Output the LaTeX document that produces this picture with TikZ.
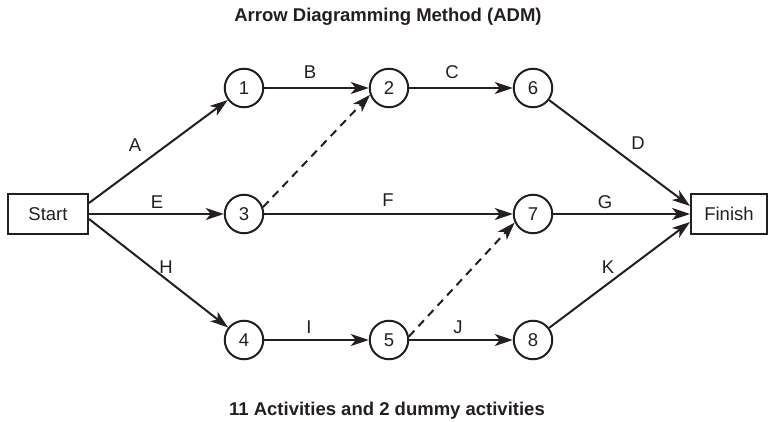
\documentclass[tikz,border=0pt]{standalone}
\usepackage{fontspec}
\setmainfont{Liberation Sans}
\usetikzlibrary{arrows.meta}
\definecolor{ink}{HTML}{231F20}
\begin{document}
\begin{tikzpicture}[x=1pt,y=-1pt,
  every node/.style={text=ink, font=\fontsize{18.5}{22}\selectfont},
  evnode/.style={circle, draw=ink, line width=2pt, minimum size=38.5pt, inner sep=0pt},
  termbox/.style={rectangle, draw=ink, line width=2pt, minimum height=40pt, inner sep=0pt},
  act/.style={draw=ink, line width=2pt, -{Stealth[length=18pt,width=12pt,inset=5pt]}},
  dummy/.style={act, dash pattern=on 8pt off 6pt},
  lbl/.style={inner sep=0pt},
  heading/.style={font=\fontsize{18.5}{22}\selectfont\bfseries}]
\useasboundingbox (0,0) rectangle (768,422);
\node[heading] (title) at (388,17) {Arrow Diagramming Method (ADM)};
\node[heading] (foot) at (387,411) {11 Activities and 2 dummy activities};

\node[termbox, minimum width=80pt] (start) at (48,214) {Start};
\node[termbox, minimum width=76pt] (finish) at (729,214) {Finish};

\node[evnode] (n1) at (244,88) {1};
\node[evnode] (n2) at (389,88) {2};
\node[evnode] (n6) at (533,88) {6};
\node[evnode] (n3) at (244,214) {3};
\node[evnode] (n7) at (533,214) {7};
\node[evnode] (n4) at (244,340) {4};
\node[evnode] (n5) at (389,340) {5};
\node[evnode] (n8) at (533,340) {8};

\draw[act] ([yshift=11pt]start.east) -- (n1);
\draw[act] (start.east) -- (n3);
\draw[act] ([yshift=-5pt]start.east) -- (n4);
\draw[act] (n1) -- (n2);
\draw[act] (n2) -- (n6);
\draw[act] (n3) -- (n7);
\draw[act] (n4) -- (n5);
\draw[act] (n5) -- (n8);
\draw[act] (n6) -- ([yshift=8pt]finish.west);
\draw[act] (n7) -- (finish.west);
\draw[act] (n8) -- ([yshift=-8pt]finish.west);
\draw[dummy] (n3.20) -- (n2.200);
\draw[dummy] (n5.10) -- (n7.205);

\node[lbl] (lA) at (135,145) {A};
\node[lbl] (lE) at (157,202) {E};
\node[lbl] (lH) at (166,267) {H};
\node[lbl] (lB) at (310,72) {B};
\node[lbl] (lC) at (452,72) {C};
\node[lbl] (lF) at (388,200) {F};
\node[lbl] (lI) at (309,327) {I};
\node[lbl] (lJ) at (458,327) {J};
\node[lbl] (lD) at (638,143) {D};
\node[lbl] (lG) at (605,202) {G};
\node[lbl] (lK) at (608,267) {K};
\end{tikzpicture}
\end{document}
